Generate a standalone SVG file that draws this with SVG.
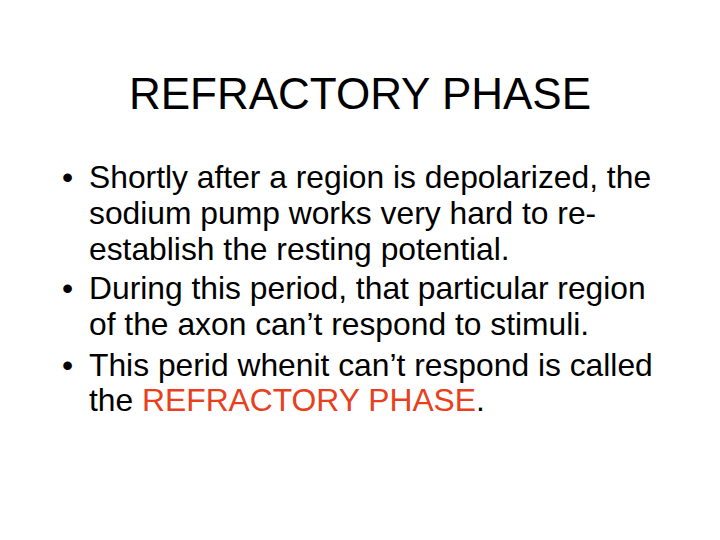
<svg xmlns="http://www.w3.org/2000/svg" width="720" height="540" viewBox="0 0 720 540">
<style>
text{font-family:"Liberation Sans",Arial,sans-serif;fill:#000}
.b{font-size:31.8px}
.r{fill:#E8401C}
</style>
<rect width="720" height="540" fill="#fff"/>
<g id="title"><text x="360" y="109" font-size="44" text-anchor="middle">REFRACTORY PHASE</text></g>
<g id="body" class="b">
<text x="62" y="188" class="b">•</text>
<text x="89" y="188" class="b">Shortly after a region is depolarized, the</text>
<text x="89" y="224" class="b">sodium pump works very hard to re-</text>
<text x="89" y="260" class="b">establish the resting potential.</text>
<text x="62" y="299" class="b">•</text>
<text x="89" y="299" class="b">During this period, that particular region</text>
<text x="89" y="335" class="b">of the axon can’t respond to stimuli.</text>
<text x="62" y="376" class="b">•</text>
<text x="89" y="376" class="b">This perid whenit can’t respond is called</text>
<text x="89" y="411" class="b">the <tspan class="r">REFRACTORY PHASE</tspan>.</text>
</g>
</svg>
